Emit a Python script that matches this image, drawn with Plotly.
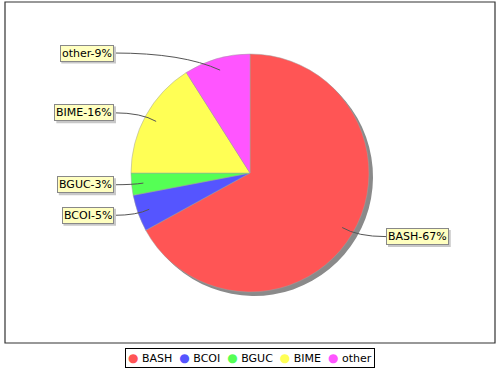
import math
import plotly.graph_objects as go

# ---- data ----
categories = ["BASH", "BCOI", "BGUC", "BIME", "other"]
values = [67, 5, 3, 16, 9]
colors = ["#FF5555", "#5555FF", "#55FF55", "#FFFF55", "#FF55FF"]

# ---- layout geometry (pixels) ----
W, H = 500, 370
cx, cy, R = 250, 173, 119
SH = 4  # shadow offset
FONT = "DejaVu Sans"
FS = 11

# approximate DejaVu Sans advance widths (em) for sizing the label shadows
EM = {"B": .686, "A": .684, "S": .635, "H": .752, "C": .698, "O": .787, "I": .295,
      "G": .775, "U": .732, "M": .863, "E": .632, "o": .612, "t": .392, "h": .634,
      "e": .615, "r": .411, "-": .361, "%": .950}


def text_w(t):
    return sum(EM.get(ch, .636) for ch in t) * FS


def px(x):
    return x / W


def py(y):
    return 1 - y / H


fig = go.Figure()

# pie shadow
fig.add_trace(go.Pie(
    values=values, labels=categories, sort=False, direction="clockwise", rotation=0,
    marker=dict(colors=["#8A8A8A"] * len(values), line=dict(width=0)),
    textinfo="none", hoverinfo="skip", showlegend=False,
    domain=dict(x=[px(cx - R + SH), px(cx + R + SH)], y=[py(cy + R + SH), py(cy - R + SH)]),
))

# main pie
fig.add_trace(go.Pie(
    values=values, labels=categories, sort=False, direction="clockwise", rotation=0,
    marker=dict(colors=colors, line=dict(color="#A0A0A0", width=0.5)),
    textinfo="none", showlegend=False,
    domain=dict(x=[px(cx - R), px(cx + R)], y=[py(cy + R), py(cy - R)]),
))

# ---- labels with link lines ----
total = sum(values)
annotations = []
shapes = []
cum = 0.0
for name, v in zip(categories, values):
    start = cum / total * 360
    cum += v
    end = cum / total * 360
    mid = math.radians((start + end) / 2)
    s, c = math.sin(mid), math.cos(mid)
    ly = cy - 1.05 * R * c
    right = s >= 0
    lx = cx + 136 if right else cx - 136
    ax_ = cx + 0.9 * R * s
    ay_ = cy - 0.9 * R * c
    ctrl_x = ax_ + (lx - ax_) * 0.35
    shapes.append(dict(
        type="path", xref="paper", yref="paper",
        path=f"M {px(lx)},{py(ly)} Q {px(ctrl_x)},{py(ly)} {px(ax_)},{py(ay_)}",
        line=dict(color="#555555", width=1),
    ))
    text = f"{name}-{round(v / total * 100)}%"
    tw = text_w(text)
    bw = tw + 4
    bh = 17
    # label shadow (rectangle offset by 2px)
    x0 = lx if right else lx - bw
    shapes.append(dict(type="rect", xref="paper", yref="paper", layer="above",
                       x0=px(x0 + 2), x1=px(x0 + bw + 2),
                       y0=py(ly + bh / 2 + 2), y1=py(ly - bh / 2 + 2),
                       fillcolor="#C8C8C8", line=dict(width=0)))
    annotations.append(dict(text=text, x=px(lx), y=py(ly), xref="paper", yref="paper",
                            xanchor="left" if right else "right", yanchor="middle",
                            showarrow=False, borderpad=1, borderwidth=1,
                            bgcolor="#FFFFC0", bordercolor="#888888",
                            font=dict(family=FONT, size=FS, color="black")))

# ---- legend (box with coloured circles) ----
items = []
for name, col in zip(categories, colors):
    items.append(f"<span style='color:{col};font-size:12px'>●</span> {name}")
legend_text = "\u00a0\u00a0".join(items)
annotations.append(dict(
    text=legend_text, x=0.5, y=py(357.5), xref="paper", yref="paper",
    xanchor="center", yanchor="middle", showarrow=False,
    bordercolor="black", borderwidth=1, borderpad=2, bgcolor="white",
    font=dict(family=FONT, size=FS, color="black"),
))

# outer chart border
shapes.append(dict(type="rect", xref="paper", yref="paper",
                   x0=px(5), x1=px(495), y0=py(343), y1=py(2),
                   line=dict(color="#333333", width=1.2)))

fig.update_layout(
    width=W, height=H,
    margin=dict(l=0, r=0, t=0, b=0),
    paper_bgcolor="white", plot_bgcolor="white",
    showlegend=False,
    annotations=annotations, shapes=shapes,
    font=dict(family=FONT, size=FS),
)

fig.write_html("out.html", config={"displayModeBar": False},
               post_script="document.body.style.margin='0';")
